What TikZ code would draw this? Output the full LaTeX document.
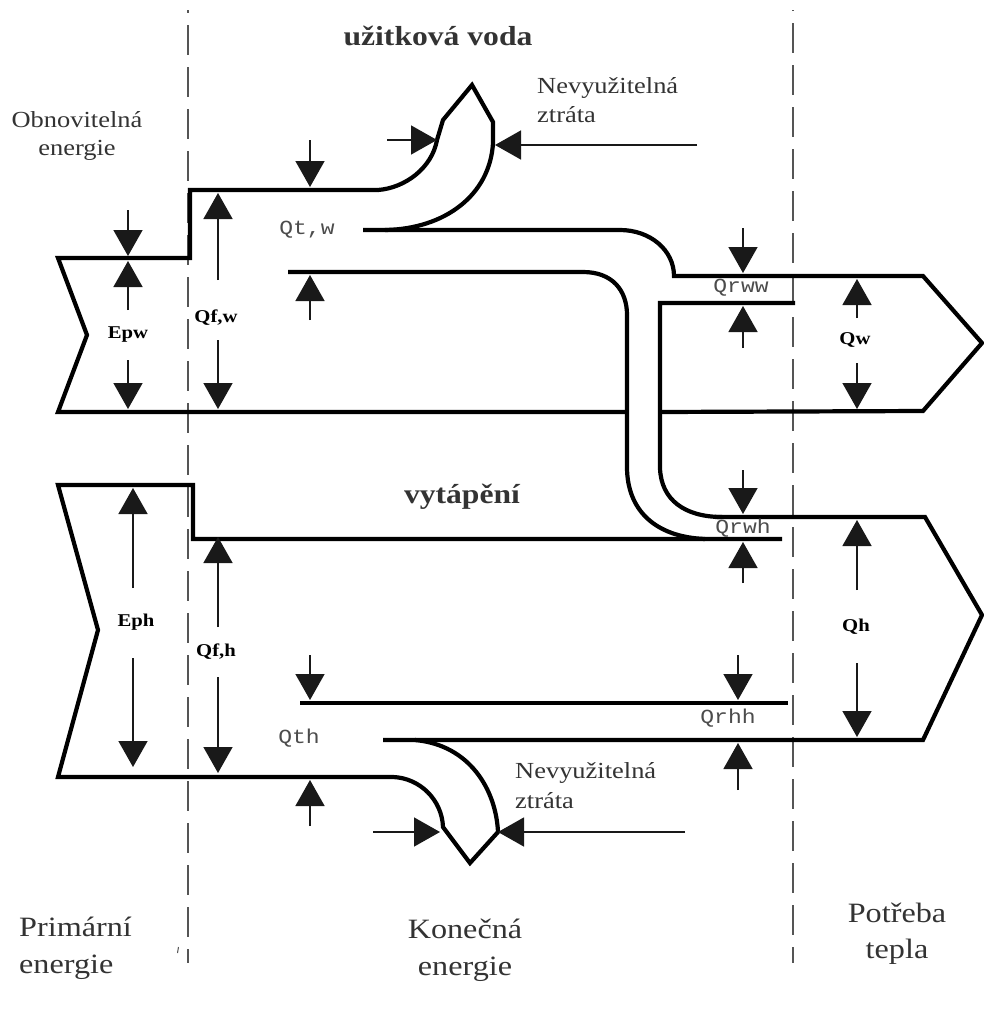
\documentclass[tikz,border=0pt]{standalone}
\usepackage{fontspec}
\setmainfont[FakeStretch=1.15]{Liberation Serif}
\newfontfamily\lblmono[FakeStretch=1.15]{Liberation Mono}
\usetikzlibrary{arrows.meta}
\definecolor{txt}{HTML}{333333}
\definecolor{dashc}{HTML}{555555}
\begin{document}
\begin{tikzpicture}[x=1pt,y=-1pt,
  flow/.style={line width=4.2pt, black},
  dim/.style={line width=1.5pt, black!90, -{Triangle[length=26pt,width=29pt]}},
  sep/.style={line width=1.7pt, dashc, dash pattern=on 30pt off 12pt},
  big/.style={font=\fontsize{28}{34}\selectfont, text=txt, inner sep=0pt},
  mid/.style={font=\fontsize{23}{28}\selectfont, text=txt, inner sep=0pt},
  ttl/.style={font=\bfseries\fontsize{27.5}{32}\selectfont, text=txt, inner sep=0pt},
  qb/.style={font=\bfseries\fontsize{18}{20}\selectfont, inner sep=0pt},
  qs/.style={font=\lblmono\fontsize{20}{22}\selectfont, text=black!70, inner sep=0pt},
]
\useasboundingbox (0,0) rectangle (983,1012);
\fill[white] (0,0) rectangle (983,1012);

% separators
\draw[sep, dash phase=27pt] (188,10) -- (188,963);
\draw[sep, dash phase=29pt] (793,10) -- (793,963);
\draw[line width=1pt, dashc] (178.5,947) -- (177.5,953);

% ---------- water flow ----------
\draw[flow] (378,190) -- (190,190) -- (190,258) -- (58,258) -- (87,335) -- (58,412) -- (627,412);
\draw[flow] (660,412) -- (923,411) -- (982,343) -- (923,276) -- (674,276)
   .. controls (674,250) and (650,230) .. (620,230) -- (363,230);
% top loss
\draw[flow] (378,190) .. controls (405,188) and (432,168) .. (437,140) -- (443,120) -- (472,85) -- (493,122) -- (493,143)
   .. controls (490,195) and (445,229) .. (385,230);
% pipe (water to heating)
\draw[flow] (288,272) -- (583,272) .. controls (612,272) and (627,290) .. (627,315) -- (627,467)
   .. controls (627,510) and (655,537) .. (705,539);
\draw[flow] (795,303) -- (660,303) -- (660,468) .. controls (661,500) and (685,517) .. (722,517);

% ---------- heating flow ----------
\draw[flow] (782,539) -- (193,539) -- (193,485) -- (58,485) -- (98,630) -- (58,777) -- (393,777)
   .. controls (420,778) and (442,800) .. (443,827) -- (470,863) -- (498,832)
   .. controls (496,790) and (470,745) .. (415,740);
\draw[flow] (383,740) -- (923,740) -- (982,615) -- (925,517) -- (715,517);
\draw[flow] (300,703) -- (788,703);

% ---------- dimension arrows ----------
\draw[dim] (128,210) -- (128,256);
\draw[dim] (128,310) -- (128,261);
\draw[dim] (128,360) -- (128,409);
\draw[dim] (218,280) -- (218,193);
\draw[dim] (218,340) -- (218,409);
\draw[dim] (310,140) -- (310,187);
\draw[dim] (310,320) -- (310,275);
\draw[dim] (387,140) -- (437,140);
\draw[dim] (697,145) -- (495,145);
\draw[dim] (743,228) -- (743,273);
\draw[dim] (743,348) -- (743,306);
\draw[dim] (857,318) -- (857,279);
\draw[dim] (857,363) -- (857,409);

\draw[dim] (133,588) -- (133,488);
\draw[dim] (133,658) -- (133,767);
\draw[dim] (218,627) -- (218,537);
\draw[dim] (218,677) -- (218,773);
\draw[dim] (310,655) -- (310,700);
\draw[dim] (310,826) -- (310,780);
\draw[dim] (373,832) -- (440,832);
\draw[dim] (685,832) -- (498,832);
\draw[dim] (743,470) -- (743,514);
\draw[dim] (743,583) -- (743,542);
\draw[dim] (738,655) -- (738,700);
\draw[dim] (738,790) -- (738,743);
\draw[dim] (857,590) -- (857,520);
\draw[dim] (857,663) -- (857,737);

% ---------- labels ----------
\node[qb] (epw) at (128,335) {Epw};
\node[qb] (qfw) at (216,318) {Qf,w};
\node[qs] (qtw) at (307,230) {Qt,w};
\node[qs] (qrww) at (741,288) {Qrww};
\node[qb] (qw) at (855,340) {Qw};
\node[qb] (eph) at (136,622) {Eph};
\node[qb] (qfh) at (216,652) {Qf,h};
\node[qs] (qth) at (299,738) {Qth};
\node[qs] (qrwh) at (743,528) {Qrwh};
\node[qs] (qrhh) at (728,718) {Qrhh};
\node[qb] (qh) at (856,627) {Qh};

\node[ttl, anchor=base] (tw) at (438,45) {užitková voda};
\node[ttl, anchor=base] (th) at (462,503) {vytápění};

\node[mid, anchor=base] (ob1) at (77,127) {Obnovitelná};
\node[mid, anchor=base] (ob2) at (77,155) {energie};
\node[mid, anchor=base west] (nt1) at (537,93) {Nevyužitelná};
\node[mid, anchor=base west] (nt2) at (537,122) {ztráta};
\node[mid, anchor=base west] (nb1) at (515,778) {Nevyužitelná};
\node[mid, anchor=base west] (nb2) at (515,808) {ztráta};

\node[big, anchor=base west] (pe1) at (19,936) {Primární};
\node[big, anchor=base west] (pe2) at (19,973) {energie};
\node[big, anchor=base] (ke1) at (465,938) {Konečná};
\node[big, anchor=base] (ke2) at (465,975) {energie};
\node[big, anchor=base] (pt1) at (897,922) {Potřeba};
\node[big, anchor=base] (pt2) at (897,958) {tepla};
\end{tikzpicture}
\end{document}
